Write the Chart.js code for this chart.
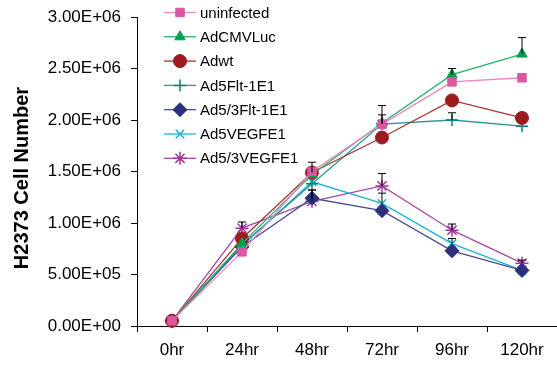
<!DOCTYPE html>
<html>
<head>
<meta charset="utf-8">
<script src="https://cdn.jsdelivr.net/npm/chart.js@4.4.0/dist/chart.umd.min.js"></script>
<style>
  html, body { margin: 0; padding: 0; background: #fff; overflow: hidden; }
  #wrap { width: 557px; height: 369px; position: relative; }
</style>
</head>
<body>
<div id="wrap"><canvas id="growthChart"></canvas></div>
<script>
// datos
const timePoints = ['0hr', '24hr', '48hr', '72hr', '96hr', '120hr'];
const seriesNames = ['uninfected', 'AdCMVLuc', 'Adwt', 'Ad5Flt-1E1', 'Ad5/3Flt-1E1', 'Ad5VEGFE1', 'Ad5/3VEGFE1'];
const yTitle = 'H2373 Cell Number';

const uninfected = [50000, 720000, 1500000, 1960000, 2370000, 2410000];
const adCMVLuc   = [50000, 800000, 1470000, 1970000, 2440000, 2640000];
const adwt       = [50000, 850000, 1490000, 1830000, 2190000, 2020000];
const ad5Flt     = [50000, 790000, 1380000, 1960000, 2000000, 1940000];
const ad53Flt    = [50000, 770000, 1240000, 1120000, 730000, 540000];
const ad5VEGF    = [50000, 780000, 1400000, 1190000, 800000, 540000];
const ad53VEGF   = [50000, 950000, 1210000, 1360000, 930000, 610000];

// barras de error (solo hacia arriba)
const errUninfected = [0, 0, 0, 90000, 0, 0];
const errCMV        = [0, 0, 0, 170000, 60000, 160000];
const errAdwt       = [0, 0, 100000, 0, 0, 0];
const errFlt        = [0, 0, 0, 0, 70000, 0];
const err53Flt      = [0, 0, 80000, 0, 0, 0];
const errVEGF       = [0, 0, 0, 100000, 50000, 0];
const err53VEGF     = [0, 60000, 110000, 120000, 60000, 30000];

const yTicksMax = 3000000;
const yStep = 500000;

const FONT = '"Liberation Sans", Arial, sans-serif';

function fmtSci(v) {
    if (v === 0) return '0.00E+00';
    const e = Math.floor(Math.log10(v));
    const m = v / Math.pow(10, e);
    return m.toFixed(2) + 'E+' + String(e).padStart(2, '0');
}

function mk(label, data, errs, color, lineColor, style, radius, bw) {
    return {
        label: label,
        data: data,
        errors: errs,
        borderColor: lineColor,
        backgroundColor: color,
        pointBackgroundColor: color,
        pointBorderColor: color,
        pointStyle: style,
        pointRadius: radius,
        pointBorderWidth: bw,
        borderWidth: 1.3,
        tension: 0,
        clip: false
    };
}

const errorBars = {
    id: 'errorBars',
    afterDatasetsDraw(chart) {
        const ctx = chart.ctx;
        const yScale = chart.scales.y;
        ctx.save();
        ctx.strokeStyle = '#000';
        ctx.lineWidth = 1;
        chart.data.datasets.forEach((ds, di) => {
            const meta = chart.getDatasetMeta(di);
            (ds.errors || []).forEach((e, i) => {
                if (!e) return;
                const pt = meta.data[i];
                const yTop = yScale.getPixelForValue(ds.data[i] + e);
                ctx.beginPath();
                ctx.moveTo(pt.x, pt.y);
                ctx.lineTo(pt.x, yTop);
                ctx.moveTo(pt.x - 4, yTop);
                ctx.lineTo(pt.x + 4, yTop);
                ctx.stroke();
            });
        });
        ctx.restore();
    }
};

// leyenda flotante y titulo del eje Y
const floatLegend = {
    id: 'floatLegend',
    afterDraw(chart) {
        const ctx = chart.ctx;
        ctx.save();
        ctx.font = '15px ' + FONT;
        ctx.textBaseline = 'middle';
        chart.data.datasets.forEach((ds, i) => {
            const y = 12.5 + i * 24.3;
            ctx.strokeStyle = ds.borderColor;
            ctx.lineWidth = 1.3;
            ctx.beginPath();
            ctx.moveTo(164, y);
            ctx.lineTo(196, y);
            ctx.stroke();
            ctx.fillStyle = ds.pointBackgroundColor;
            ctx.strokeStyle = ds.pointBorderColor;
            ctx.lineWidth = ds.pointBorderWidth;
            Chart.helpers.drawPoint(ctx, {
                pointStyle: ds.pointStyle,
                radius: ds.pointRadius,
                rotation: 0,
                borderWidth: ds.pointBorderWidth
            }, 180, y);
            ctx.fillStyle = '#000';
            ctx.fillText(ds.label, 200, y + 1);
        });

        ctx.translate(22, 178);
        ctx.rotate(-Math.PI / 2);
        ctx.font = 'bold 20px ' + FONT;
        ctx.textAlign = 'center';
        ctx.textBaseline = 'middle';
        ctx.fillStyle = '#000';
        ctx.fillText(yTitle, 0, 0);
        ctx.restore();
    }
};

const ctx = document.getElementById('growthChart').getContext('2d');
const growthChart = new Chart(ctx, {
    type: 'line',
    data: {
        labels: timePoints,
        datasets: [
            mk(seriesNames[0], uninfected, errUninfected, '#D957A3', '#EE86C2', 'rect', 6, 1),
            mk(seriesNames[1], adCMVLuc, errCMV, '#00A04F', '#25B36C', 'triangle', 6, 1),
            mk(seriesNames[2], adwt, errAdwt, '#9B1B1E', '#A83434', 'circle', 6.5, 1),
            mk(seriesNames[3], ad5Flt, errFlt, '#0A7F7F', '#2A9696', 'cross', 6, 1.5),
            mk(seriesNames[4], ad53Flt, err53Flt, '#2B2F7E', '#4A4E94', 'rectRot', 7, 1),
            mk(seriesNames[5], ad5VEGF, errVEGF, '#1CB3D4', '#1CB3D4', 'crossRot', 6, 1.5),
            mk(seriesNames[6], ad53VEGF, err53VEGF, '#A0389A', '#A64AA0', 'star', 6.5, 1.5)
        ]
    },
    options: {
        responsive: true,
        maintainAspectRatio: false,
        animation: false,
        layout: { autoPadding: false, padding: { top: 17, right: 0, left: 0, bottom: 0 } },
        plugins: {
            legend: { display: false },
            tooltip: { enabled: false }
        },
        scales: {
            x: {
                offset: true,
                grid: {
                    offset: true,
                    drawOnChartArea: false,
                    drawTicks: true,
                    tickLength: 6,
                    color: '#000'
                },
                border: { color: '#000', width: 1 },
                ticks: {
                    color: '#000',
                    padding: 8,
                    maxRotation: 0,
                    font: { family: FONT, size: 17 }
                },
                afterFit(scale) {
                    scale.height = 43;
                    scale.paddingLeft = 0;
                    scale.paddingRight = 0;
                }
            },
            y: {
                min: 0,
                max: yTicksMax,
                grid: {
                    drawOnChartArea: false,
                    drawTicks: true,
                    tickLength: 6,
                    color: '#000'
                },
                border: { color: '#000', width: 1 },
                ticks: {
                    stepSize: yStep,
                    color: '#000',
                    padding: 10,
                    font: { family: FONT, size: 17 },
                    callback: v => fmtSci(v)
                },
                afterFit(scale) {
                    scale.width = 137;
                    scale.paddingTop = 0;
                }
            }
        }
    },
    plugins: [errorBars, floatLegend]
});
</script>
</body>
</html>
